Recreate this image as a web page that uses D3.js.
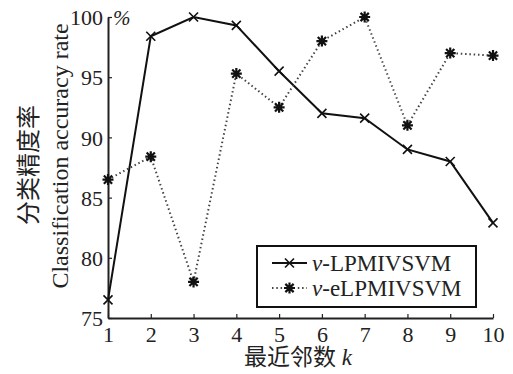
<!DOCTYPE html>
<html>
<head>
<meta charset="utf-8">
<script src="https://cdn.jsdelivr.net/npm/d3@7"></script>
<style>
	body { margin: 0; background: #fff; }
	text { font-family: "Liberation Serif", "Noto Sans CJK SC", serif; fill: #222; }
</style>
</head>
<body>
<svg id="chart" width="513" height="374"></svg>
<script>
var kValues   = [1, 2, 3, 4, 5, 6, 7, 8, 9, 10];
var lpmivsvm  = [76.5, 98.4, 100, 99.3, 95.5, 92.0, 91.6, 89.0, 88.0, 82.9];
var elpmivsvm = [86.5, 88.4, 78.0, 95.3, 92.5, 98.0, 100, 91.0, 97.0, 96.8];
var yTicks    = [75, 80, 85, 90, 95, 100];
var seriesNames = ["-LPMIVSVM", "-eLPMIVSVM"];

var svg = d3.select("#chart");
var plotLeft = 108, plotRight = 493, plotTop = 17, plotBottom = 318;

var x = d3.scaleLinear().domain([1, 10]).range([plotLeft, plotRight]);
var y = d3.scaleLinear().domain([75, 100]).range([plotBottom, plotTop]);

//axes
var gx = svg.append("g").attr("transform", "translate(0," + plotBottom + ")")
	.call(d3.axisBottom(x).tickValues(kValues).tickSize(-4).tickPadding(8).tickSizeOuter(0));
var gy = svg.append("g").attr("transform", "translate(" + plotLeft + ",0)")
	.call(d3.axisLeft(y).tickValues(yTicks).tickSize(-4).tickPadding(5).tickSizeOuter(0));
[gx, gy].forEach(function(g){
	g.select(".domain").attr("stroke", "#222").attr("stroke-width", 2);
	g.selectAll(".tick line").attr("stroke", "#222").attr("stroke-width", 1.2);
	g.selectAll(".tick text").style("font-size", "22px").attr("fill", "#222")
		.style("font-family", "Liberation Serif");
});
gy.selectAll(".tick text").attr("dy", "0.35em");

//unit
svg.append("text").attr("x", plotLeft + 5).attr("y", plotTop + 8)
	.style("font-size", "21px").style("font-style", "italic").text("%");

//axis titles
svg.append("text").attr("transform", "translate(37,165) rotate(-90)")
	.attr("text-anchor", "middle").style("font-size", "24px").text("分类精度率");
svg.append("text").attr("transform", "translate(68,156) rotate(-90)")
	.attr("text-anchor", "middle").style("font-size", "24px").text("Classification accuracy rate");
var xt = svg.append("text").attr("x", 298).attr("y", 365).attr("text-anchor", "middle").style("font-size", "23px");
xt.append("tspan").text("最近邻数 ");
xt.append("tspan").style("font-style", "italic").text("k");

var line = d3.line().x(function(d, i){ return x(kValues[i]); }).y(function(d){ return y(d); });

function crossPath(s){ return "M" + (-s) + "," + (-s) + "L" + s + "," + s + "M" + (-s) + "," + s + "L" + s + "," + (-s); }
function starPath(s){
	var d = "M0," + (-s) + "V" + s + "M" + (-s) + ",0H" + s;
	var t = s * 0.75;
	return d + "M" + (-t) + "," + (-t) + "L" + t + "," + t + "M" + (-t) + "," + t + "L" + t + "," + (-t);
}

//solid series
svg.append("path").datum(lpmivsvm).attr("d", line)
	.attr("fill", "none").attr("stroke", "#111").attr("stroke-width", 2);
svg.selectAll(".m1").data(lpmivsvm).enter().append("path")
	.attr("transform", function(d, i){ return "translate(" + x(kValues[i]) + "," + y(d) + ")"; })
	.attr("d", crossPath(4.5)).attr("stroke", "#111").attr("stroke-width", 1.6);

//dotted series
svg.append("path").datum(elpmivsvm).attr("d", line)
	.attr("fill", "none").attr("stroke", "#444").attr("stroke-width", 2).attr("stroke-dasharray", "1.5,2.8");
svg.selectAll(".m2").data(elpmivsvm).enter().append("path")
	.attr("transform", function(d, i){ return "translate(" + x(kValues[i]) + "," + y(d) + ")"; })
	.attr("d", starPath(5.5)).attr("stroke", "#111").attr("stroke-width", 2.2);

//legend
var lg = svg.append("g").attr("transform", "translate(257,246)");
lg.append("rect").attr("width", 219).attr("height", 61)
	.attr("fill", "#fff").attr("stroke", "#111").attr("stroke-width", 2);
[0, 1].forEach(function(i){
	var ly = 17 + i * 25;
	lg.append("line").attr("x1", 15).attr("x2", 50).attr("y1", ly).attr("y2", ly)
		.attr("stroke", i ? "#444" : "#111").attr("stroke-width", 2)
		.attr("stroke-dasharray", i ? "1.5,2.8" : null);
	lg.append("path").attr("transform", "translate(32.5," + ly + ")")
		.attr("d", i ? starPath(5.5) : crossPath(4.5)).attr("stroke", "#111").attr("stroke-width", i ? 2.2 : 1.6);
	var t = lg.append("text").attr("x", 55).attr("y", ly + 8).style("font-size", "23px");
	t.append("tspan").style("font-style", "italic").text("v");
	t.append("tspan").text(seriesNames[i]);
});
</script>
</body>
</html>
